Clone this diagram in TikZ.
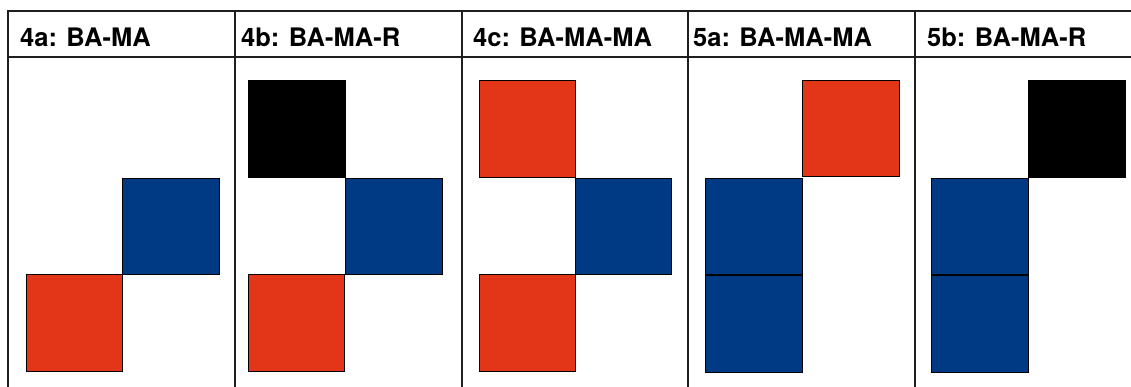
\documentclass[tikz,border=0pt]{standalone}
\usepackage{fontspec}
\setmainfont{TeX Gyre Heros}
\definecolor{sqred}{RGB}{227,54,24}
\definecolor{sqblue}{RGB}{0,58,132}
\definecolor{gridline}{RGB}{30,30,30}
\begin{document}
\begin{tikzpicture}[x=1pt,y=-1pt,
  grid/.style={draw=gridline,line width=2.4pt},
  head/.style={anchor=base west,inner sep=0pt,font=\fontsize{25.5}{30}\selectfont\bfseries},
  tile/.style={draw=black,line width=0.9pt},
  red/.style={tile,fill=sqred},
  blue/.style={tile,fill=sqblue},
  blk/.style={tile,fill=black},
  seam/.style={draw=black,line width=2pt}]
\useasboundingbox (0,0) rectangle (1131,386);
\fill[white] (0,0) rectangle (1131,386);
\clip (0,0) rectangle (1131,386);
% table frame
\draw[grid] (8,400) -- (8,11) -- (1150,11);
\draw[grid] (8,57) -- (1150,57);
\foreach \x in {235,462,688,915}
  \draw[grid] (\x,11) -- (\x,400);
% headings
\node[head] (h4a) at (20,46) {4a: BA-MA};
\node[head] (h4b) at (241,46) {4b: BA-MA-R};
\node[head] (h4c) at (473,46) {4c: BA-MA-MA};
\node[head] (h5a) at (693,46) {5a: BA-MA-MA};
\node[head] (h5b) at (927,46) {5b: BA-MA-R};
% 4a
\draw[red]  (26,274) rectangle (122,371);
\draw[blue] (122,178) rectangle (219,274);
% 4b
\draw[blk]  (248,80) rectangle (345,177);
\draw[blue] (345,178) rectangle (442,274);
\draw[red]  (248,274) rectangle (344,371);
% 4c
\draw[red]  (479,80) rectangle (575,177);
\draw[blue] (575,178) rectangle (671,274);
\draw[red]  (479,274) rectangle (575,371);
% 5a
\draw[red]  (802,80) rectangle (899,176);
\draw[blue] (705,178) rectangle (802,275);
\draw[blue] (705,275) rectangle (802,372);
\draw[seam] (705,275) -- (802,275);
% 5b
\draw[blk]  (1028,80) rectangle (1125,177);
\draw[blue] (931,178) rectangle (1028,275);
\draw[blue] (931,275) rectangle (1028,372);
\draw[seam] (931,275) -- (1028,275);
\end{tikzpicture}
\end{document}
